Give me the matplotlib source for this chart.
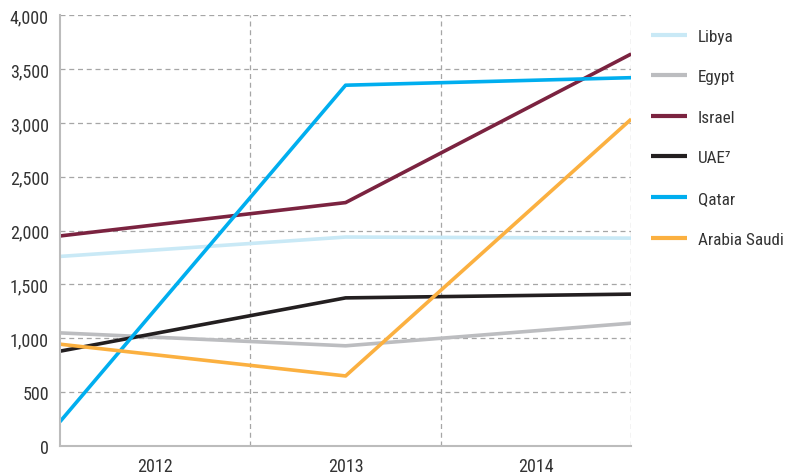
import numpy as np
import matplotlib
matplotlib.use("Agg")
import matplotlib.pyplot as plt

plt.rcParams['font.family'] = ['Roboto Condensed', 'Archivo Narrow', 'PT Sans Narrow', 'DejaVu Sans']

years = ["2012", "2013", "2014"]
countries = ["Libya", "Egypt", "Israel", "UAE⁷", "Qatar", "Arabia Saudi"]
libya = [1760, 1940, 1930]
egypt = [1050, 930, 1140]
israel = [1950, 2260, 3640]
uae = [880, 1375, 1410]
qatar = [225, 3350, 3420]
saudi = [945, 650, 3035]
colors = ["#c9e9f6", "#bcbdc0", "#7b2340", "#231f20", "#00aeef", "#fbb040"]

series = [libya, egypt, israel, uae, qatar, saudi]
x = np.arange(len(years))

fig = plt.figure(figsize=(7.89, 4.77), dpi=100)
ax = fig.add_axes([0.076, 0.063, 0.724, 0.903])

for vals, name, c in zip(series, countries, colors):
    ax.plot(x, vals, color=c, lw=2.6, label=name, solid_capstyle='butt')

ax.set_xlim(0, 2)
ax.set_ylim(0, 4000)
ax.set_yticks(np.arange(0, 4001, 500))
ax.set_yticklabels([f"{v:,}" for v in range(0, 4001, 500)])
# year labels sit in the middle of three equal bands, grid on the band edges
ax.set_xticks([1/3, 1, 5/3])
ax.set_xticklabels(years)
ax.set_xticks([2/3, 4/3, 2], minor=True)
ax.tick_params(axis='both', which='both', length=0, labelsize=13, colors='#333333')
ax.tick_params(axis='y', pad=8)
ax.tick_params(axis='x', pad=8)

ax.grid(axis='y', which='major', color='#a6a6a6', ls=(0, (4, 3)), lw=0.9)
ax.grid(axis='x', which='minor', color='#a6a6a6', ls=(0, (4, 3)), lw=0.9)
ax.set_axisbelow(True)
for s in ['top', 'right']:
    ax.spines[s].set_visible(False)
for s in ['left', 'bottom']:
    ax.spines[s].set_color('#bcbcbc')
    ax.spines[s].set_linewidth(1.5)

leg = ax.legend(loc='upper left', bbox_to_anchor=(1.022, 0.985), frameon=False,
                fontsize=12.3, handlelength=2.15, handletextpad=0.6, labelspacing=1.5,
                borderaxespad=0)
for t in leg.get_texts():
    t.set_color('#333333')
for h in leg.get_lines():
    h.set_linewidth(3)

fig.savefig("out.png", dpi=100)
